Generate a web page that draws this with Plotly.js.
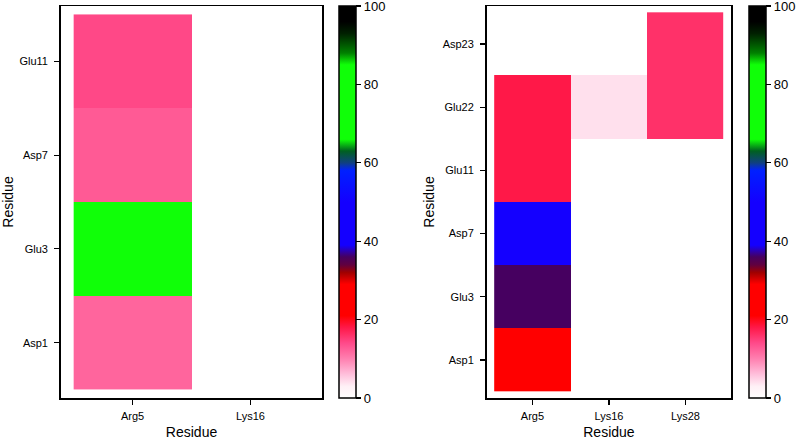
<!DOCTYPE html>
<html>
<head>
<meta charset="utf-8">
<script src="https://cdn.plot.ly/plotly-3.0.1.min.js"></script>
<style>html,body{margin:0;padding:0;background:#fff;}#chart{width:797px;height:440px;}</style>
</head>
<body>
<div id="chart"></div>
<script>
// ----- data -----
const leftX = ['Arg5', 'Lys16'];
const leftY = ['Asp1', 'Glu3', 'Asp7', 'Glu11'];
const leftArg5 = [12, 75, 12.8, 14.2];
const leftLys16 = [null, null, null, null];

const rightX = ['Arg5', 'Lys16', 'Lys28'];
const rightY = ['Asp1', 'Glu3', 'Asp7', 'Glu11', 'Glu22', 'Asp23'];
const rightArg5 = [25, 36, 45, 18, 18, null];
const rightLys16 = [null, null, null, null, 4, null];
const rightLys28 = [null, null, null, null, 16, 16];

const cbTicks = [0, 20, 40, 60, 80, 100];

// build z matrices (rows = y categories, columns = x categories)
const zLeft = leftY.map((_, i) => [leftArg5[i], leftLys16[i]]);
const zRight = rightY.map((_, i) => [rightArg5[i], rightLys16[i], rightLys28[i]]);

const cscale = [
  [0.00, '#ffffff'], [0.03, '#fff0f6'], [0.06, '#ffc0dc'], [0.10, '#ff80b0'],
  [0.14, '#ff4a8a'], [0.18, '#ff1848'], [0.21, '#ff0000'], [0.29, '#ff0000'],
  [0.32, '#a00000'], [0.34, '#600040'], [0.36, '#460060'], [0.39, '#1400ff'],
  [0.50, '#1400ff'], [0.58, '#0020ff'], [0.60, '#104080'], [0.63, '#006020'],
  [0.66, '#10ff08'], [0.85, '#10ff08'], [0.88, '#008000'], [0.93, '#002000'],
  [0.96, '#000000'], [1.00, '#000000']
];

const FONT = 'Liberation Sans, Arial, sans-serif';
const yDom = [42 / 440, 434 / 440];
const cbY = (yDom[0] + yDom[1]) / 2;
const cbLen = yDom[1] - yDom[0];

function cb(xpx) {
  return {
    x: xpx / 797, xanchor: 'left', xpad: 0, ypad: 0,
    y: cbY, yanchor: 'middle', len: cbLen, lenmode: 'fraction',
    thickness: 17, thicknessmode: 'pixels',
    outlinewidth: 1.5, outlinecolor: '#000',
    ticks: 'outside', ticklen: 5, tickwidth: 1.2, tickcolor: '#000',
    tickmode: 'array', tickvals: cbTicks, ticktext: cbTicks.map(String),
    ticklabeloverflow: 'allow',
    tickfont: {family: FONT, size: 13, color: '#000'}
  };
}

const traces = [
  {
    type: 'heatmap', x: leftX, y: leftY, z: zLeft,
    xaxis: 'x', yaxis: 'y', colorscale: cscale, zmin: 0, zmax: 100,
    colorbar: cb(341), hoverongaps: false
  },
  {
    type: 'heatmap', x: rightX, y: rightY, z: zRight,
    xaxis: 'x2', yaxis: 'y2', colorscale: cscale, zmin: 0, zmax: 100,
    colorbar: cb(753), hoverongaps: false
  }
];

function axis(extra) {
  return Object.assign({
    showline: true, mirror: true, linecolor: '#000', linewidth: 1.5,
    ticks: 'outside', ticklen: 5, tickwidth: 1.2, tickcolor: '#000',
    showgrid: false, zeroline: false, type: 'category', automargin: false,
    tickfont: {family: FONT, size: 11, color: '#000'}
  }, extra);
}

const titleFont = {family: FONT, size: 14, color: '#000'};

const layout = {
  width: 797, height: 440,
  margin: {l: 0, r: 0, t: 0, b: 0},
  paper_bgcolor: '#fff', plot_bgcolor: '#fff',
  showlegend: false,
  xaxis: axis({domain: [61 / 797, 324 / 797], range: [-0.61, 1.61], anchor: 'y',
    ticklabelstandoff: 2,
    title: {text: 'Residue', font: titleFont, standoff: 6}}),
  yaxis: axis({domain: yDom, range: [-0.59, 3.59], anchor: 'x',
    ticklabelstandoff: 4,
    title: {text: 'Residue', font: titleFont, standoff: 4}}),
  xaxis2: axis({domain: [489 / 797, 735 / 797], range: [-0.6, 2.6], anchor: 'y2',
    ticklabelstandoff: 2,
    title: {text: 'Residue', font: titleFont, standoff: 6}}),
  yaxis2: axis({domain: yDom, range: [-0.6, 5.6], anchor: 'x2',
    ticklabelstandoff: 4,
    title: {text: 'Residue', font: titleFont, standoff: 4}})
};

Plotly.newPlot('chart', traces, layout, {displayModeBar: false, staticPlot: true});
</script>
</body>
</html>
